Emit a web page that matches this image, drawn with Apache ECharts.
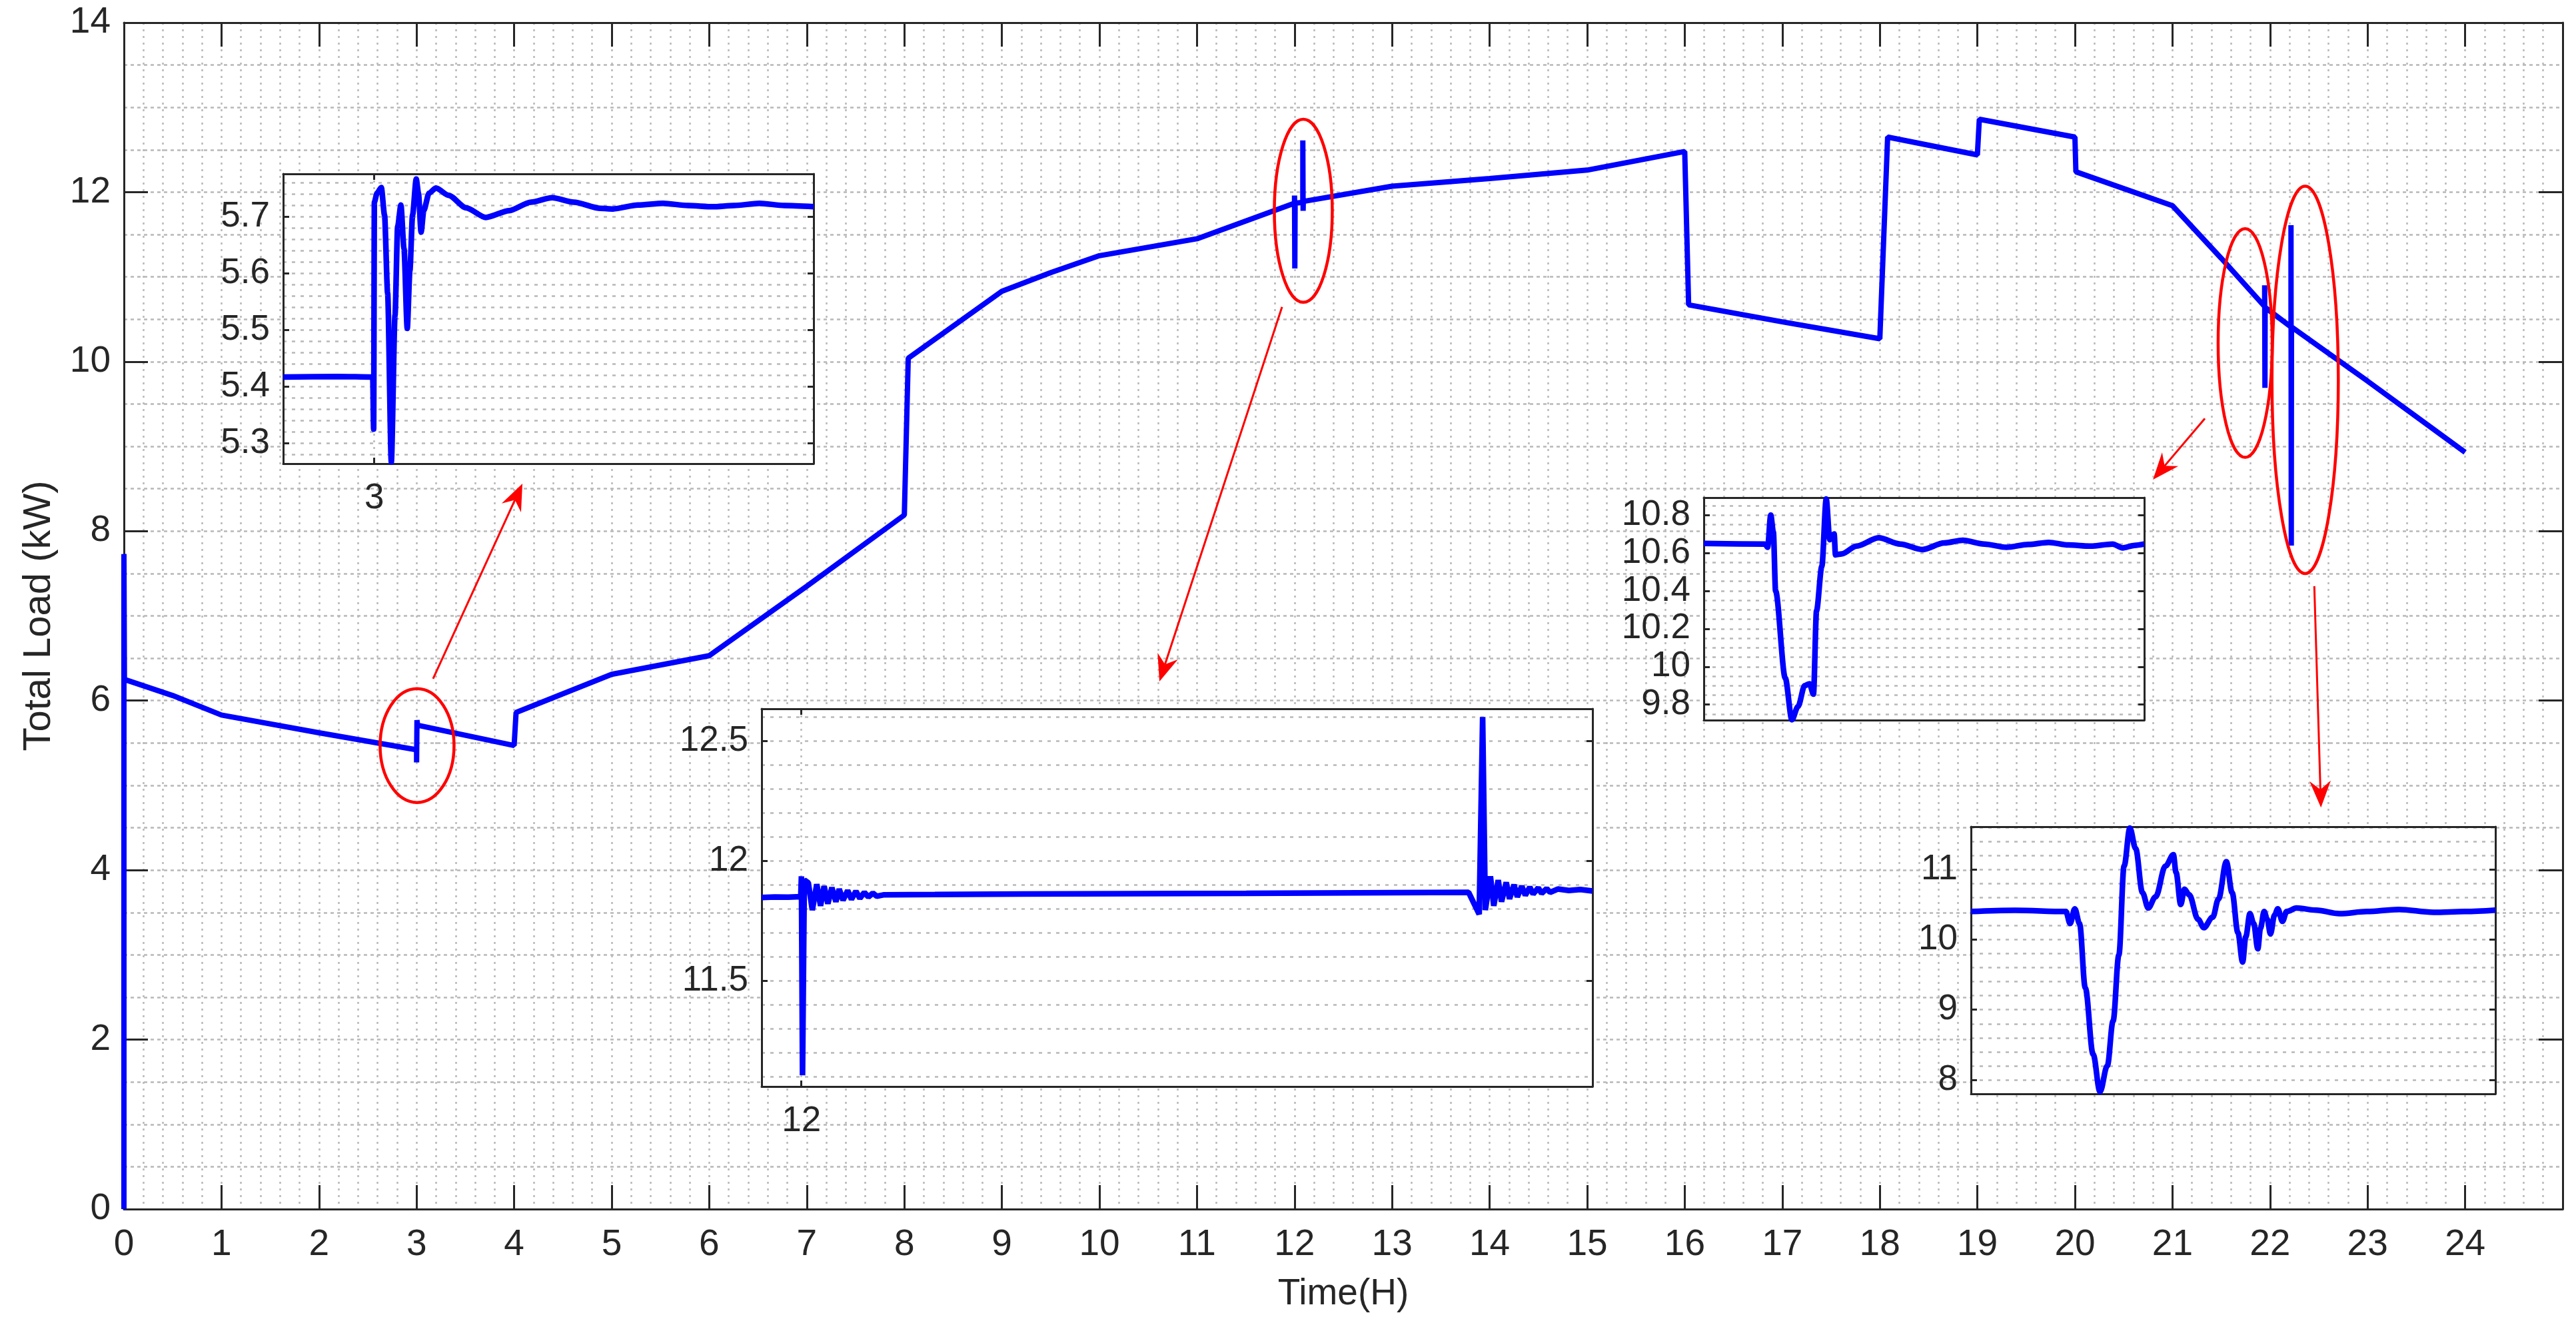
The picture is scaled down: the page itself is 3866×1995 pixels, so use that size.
<!DOCTYPE html>
<html>
<head>
<meta charset="utf-8">
<script src="https://cdn.jsdelivr.net/npm/echarts@6/dist/echarts.min.js"></script>
<style>html,body{margin:0;padding:0;background:#fff}#c{width:3866px;height:1995px}</style>
</head>
<body>
<div id="c"></div>
<script>
// ---------------- data ----------------
// main curve: time (h) and total load (kW)
const mainHours = [0, 0, 0.005, 0.5, 1, 2, 3, 3, 3.004, 3.01, 4, 4.02, 5, 6, 7, 8, 8.04, 9, 9.5, 10, 11, 11.5,
  12, 12, 12.003, 12.006, 12.085, 12.085, 12.088, 12.09, 13, 14, 15, 16, 16.04, 17, 18, 18.08, 19, 19.02, 20, 20.01,
  21, 21.5, 21.945, 21.945, 21.948, 21.95, 22.215, 22.215, 22.218, 22.22, 22.5, 23, 23.5, 24];
const mainLoad = [0, 7.73, 6.25, 6.06, 5.83, 5.62, 5.42, 5.27, 5.77, 5.71, 5.47, 5.86, 6.31, 6.53, 7.35, 8.19, 10.04, 10.83, 11.05, 11.25, 11.45, 11.66,
  11.87, 11.96, 11.10, 11.87, 11.88, 12.61, 11.78, 11.89, 12.07, 12.16, 12.26, 12.48, 10.67, 10.47, 10.27, 12.65, 12.44, 12.86, 12.65, 12.24,
  11.84, 11.22, 10.65, 10.90, 9.69, 10.64, 10.41, 11.61, 7.83, 10.41, 10.18, 9.77, 9.35, 8.93];
const mainXTicks = [0,1,2,3,4,5,6,7,8,9,10,11,12,13,14,15,16,17,18,19,20,21,22,23,24];
const mainYTicks = [0,2,4,6,8,10,12,14];

// inset 1: seconds after 3 h
const inset1Sec = [-6.18, -2.47, -0.10, -0.04, 0.01, 0.19, 0.48, 0.70, 0.91, 1.16, 1.41, 1.59, 1.81, 2.02, 2.24, 2.42, 2.60, 2.85, 3.00, 3.18,
  3.36, 3.72, 4.19, 5.05, 6.24, 7.57, 9.16, 10.63, 12.07, 13.55, 15.35, 16.21, 17.90, 19.60, 21.29, 22.98, 24.42, 26.15, 27.84, 29.82];
const inset1Load = [5.417, 5.418, 5.417, 5.325, 5.726, 5.742, 5.752, 5.703, 5.565, 5.267, 5.526, 5.683, 5.721, 5.644, 5.503, 5.605, 5.703, 5.767, 5.742, 5.673,
  5.711, 5.742, 5.751, 5.738, 5.716, 5.699, 5.711, 5.726, 5.734, 5.726, 5.715, 5.714, 5.721, 5.724, 5.72, 5.718, 5.72, 5.724, 5.72, 5.718];
const inset1XTicks = [3];
const inset1YTicks = [5.3, 5.4, 5.5, 5.6, 5.7];

// inset 2: seconds after 12 h
const inset2Sec = [-17.9, -12, -6, -0.3, 0, 0.5, 1.3, 3.1, 4.9, 6.9, 8.6, 10.2, 11.9, 13.7, 15.5, 17.0, 18.7,
  20.8, 22.5, 24.5, 26.3, 28.3, 30.1, 32.1, 33.9, 37.2, 60, 100, 150, 200, 250, 300, 304.75, 306.3, 307.5,
  309.8, 311.3, 313.3, 314.8, 316.9, 318.4, 320.4, 321.9, 323.9, 325.5, 327.5, 329.0, 331.3, 332.8, 335.1, 336.6, 340.1, 345.1, 350.2, 355.7];
const inset2Load = [11.847, 11.849, 11.848, 11.85, 11.935, 11.105, 11.92, 11.908, 11.794, 11.902, 11.812, 11.894, 11.821, 11.888, 11.829, 11.882, 11.835,
  11.876, 11.839, 11.873, 11.843, 11.868, 11.849, 11.865, 11.852, 11.858, 11.859, 11.861, 11.863, 11.864, 11.866, 11.868, 11.777, 12.60, 11.794,
  11.935, 11.812, 11.919, 11.829, 11.910, 11.841, 11.900, 11.849, 11.894, 11.856, 11.89, 11.861, 11.887, 11.864, 11.884, 11.868, 11.882, 11.876, 11.88, 11.874];
const inset2XTicks = [12];
const inset2YTicks = [11.5, 12, 12.5];

// inset 3: seconds within the zoom window (event near 21.95 h)
const inset3Sec = [0, 8.34, 8.7, 9.12, 9.48, 9.78, 11.1, 12.0, 12.84, 13.74, 14.4, 14.94, 15.36, 16.08, 16.68, 17.16, 17.76, 17.94, 18.78, 20.82,
  23.82, 26.76, 29.76, 32.76, 35.28, 38.22, 41.22, 44.22, 46.98, 49.68, 52.68, 55.68, 57.06, 58.68, 60];
const inset3Load = [10.65, 10.647, 10.63, 10.80, 10.71, 10.40, 9.94, 9.72, 9.79, 9.90, 9.91, 9.855, 10.295, 10.53, 10.885, 10.67, 10.70, 10.59, 10.595, 10.636,
  10.68, 10.647, 10.618, 10.653, 10.667, 10.647, 10.63, 10.645, 10.656, 10.642, 10.636, 10.647, 10.627, 10.64, 10.647];
const inset3YTicks = [9.8, 10, 10.2, 10.4, 10.6, 10.8];

// inset 4: seconds within the zoom window (event near 22.2 h)
const inset4Sec = [0, 5.04, 10.86, 11.34, 11.88, 12.42, 13.08, 13.98, 14.76, 15.6, 16.26, 16.92, 17.52, 18.18, 18.84, 19.62, 20.28, 21.12, 22.26, 23.16,
  23.46, 24.0, 24.42, 24.96, 25.98, 26.64, 27.66, 28.32, 29.22, 29.88, 30.54, 31.08, 31.44, 31.92, 32.34, 32.82, 33.12, 33.54, 33.9, 34.26,
  34.74, 35.1, 35.64, 36.12, 37.26, 39.48, 42.18, 45.3, 48.9, 52.92, 56.52, 60];
const inset4Load = [10.40, 10.418, 10.40, 10.23, 10.44, 10.23, 9.31, 8.36, 7.83, 8.20, 8.84, 9.78, 11.05, 11.59, 11.30, 10.67, 10.45, 10.61, 11.05, 11.21,
  10.96, 10.50, 10.72, 10.64, 10.29, 10.17, 10.32, 10.58, 11.11, 10.67, 10.10, 9.68, 10.04, 10.37, 10.23, 9.87, 10.16, 10.40, 10.29, 10.08,
  10.35, 10.44, 10.26, 10.40, 10.45, 10.42, 10.37, 10.40, 10.43, 10.39, 10.40, 10.42];
const inset4YTicks = [8, 9, 10, 11];

// callouts in main-chart data coordinates
const calloutEllipses = [[2.626, 3.384, 4.798, 6.142], [11.793, 12.387, 10.70, 12.86], [21.468, 22.022, 8.87, 11.57], [22.02, 22.70, 7.50, 12.07]];
const calloutArrows = [[3.169, 6.258, 4.085, 8.561], [11.872, 10.645, 10.615, 6.226], [21.332, 9.328, 20.80, 8.608], [22.454, 7.351, 22.522, 4.738]];

// ---------------- styles ----------------
const FONT = '"Liberation Sans", Arial, Helvetica, sans-serif';
const INK = '#262626';
const GC = '#b8b8b8';
const BLUE = '#0000ff';
const RED = '#ff0000';

function tickFmt(list) {
  return function (v) {
    for (const t of list) { if (Math.abs(t - v) < 1e-6) return String(t); }
    return '';
  };
}
function zip(xs, ys, fx) { return xs.map((x, i) => [fx ? fx(x) : x, ys[i]]); }

const lineAx = { onZero: false, lineStyle: { color: INK, width: 3 } };
const vGrid = { color: GC, width: 2.5, type: [3, 7] };
const hGridMain = { color: GC, width: 2.5, type: [5, 5] };
const hGridInset = { color: GC, width: 2.5, type: [5, 8] };

const grids = [
  { left: 186, top: 34, width: 3660, height: 1781 },
  { left: 425, top: 261, width: 796, height: 435 },
  { left: 1143, top: 1064, width: 1247, height: 567 },
  { left: 2557, top: 747, width: 661, height: 334 },
  { left: 2958, top: 1241, width: 787, height: 401 }
].map((g, i) => Object.assign({ containLabel: false, outerBoundsMode: 'none', borderWidth: 0 },
  g, i > 0 ? { show: true, backgroundColor: '#ffffff', z: 3 } : {}));

const xAxes = [];
const yAxes = [];

// main axes
xAxes.push({
  type: 'value', gridIndex: 0, position: 'bottom', min: 0, max: 25, interval: 1,
  axisLine: lineAx,
  axisTick: { inside: true, length: 36, lineStyle: { color: INK, width: 3 } },
  axisLabel: { margin: 26, fontSize: 55, color: INK, fontFamily: FONT, formatter: tickFmt(mainXTicks) },
  splitLine: { show: true, lineStyle: vGrid },
  minorTick: { show: false, splitNumber: 5 },
  minorSplitLine: { show: true, lineStyle: vGrid },
  name: 'Time(H)', nameLocation: 'middle', nameGap: 100, nameMoveOverlap: false,
  nameTextStyle: { fontSize: 55, color: INK, fontFamily: FONT }
});
xAxes.push({
  type: 'value', gridIndex: 0, position: 'top', min: 0, max: 25, interval: 1,
  axisLine: lineAx,
  axisTick: { inside: true, length: 36, lineStyle: { color: INK, width: 3 } },
  axisLabel: { show: false }, splitLine: { show: false }
});
yAxes.push({
  type: 'value', gridIndex: 0, position: 'left', min: 0, max: 14, interval: 2,
  axisLine: lineAx,
  axisTick: { inside: true, length: 36, lineStyle: { color: INK, width: 3 } },
  axisLabel: { margin: 20, fontSize: 55, color: INK, fontFamily: FONT, formatter: tickFmt(mainYTicks) },
  splitLine: { show: true, lineStyle: hGridMain },
  minorTick: { show: false, splitNumber: 4 },
  minorSplitLine: { show: true, lineStyle: hGridMain },
  name: 'Total Load (kW)', nameLocation: 'middle', nameGap: 98, nameMoveOverlap: false,
  nameTextStyle: { fontSize: 58, color: INK, fontFamily: FONT }
});
yAxes.push({
  type: 'value', gridIndex: 0, position: 'right', min: 0, max: 14, interval: 2,
  axisLine: lineAx,
  axisTick: { inside: true, length: 36, lineStyle: { color: INK, width: 3 } },
  axisLabel: { show: false }, splitLine: { show: false }
});

// inset axes
function addInset(gi, c) {
  const tick = { inside: true, length: 9, lineStyle: { color: INK, width: 3 } };
  const xi = xAxes.length, yi = yAxes.length;
  const xBase = { type: 'value', gridIndex: gi, min: c.xmin, max: c.xmax, z: 4, axisLine: lineAx };
  if (c.xInt) { xBase.minInterval = c.xInt; xBase.maxInterval = c.xInt; }
  const hasX = !!c.xTicks;
  xAxes.push(Object.assign({}, xBase, {
    position: 'bottom',
    axisTick: Object.assign({ show: hasX }, tick),
    axisLabel: { show: hasX, margin: 26, fontSize: 53, color: INK, fontFamily: FONT, formatter: tickFmt(c.xTicks || []) },
    splitLine: { show: hasX, lineStyle: vGrid }
  }));
  xAxes.push(Object.assign({}, xBase, {
    position: 'top',
    axisTick: Object.assign({ show: hasX }, tick),
    axisLabel: { show: false }, splitLine: { show: false }
  }));
  const yBase = { type: 'value', gridIndex: gi, min: c.ymin, max: c.ymax, minInterval: c.yInt, maxInterval: c.yInt, z: 4, axisLine: lineAx };
  yAxes.push(Object.assign({}, yBase, {
    position: 'left', axisTick: tick,
    axisLabel: { margin: 20, fontSize: 53, color: INK, fontFamily: FONT, formatter: tickFmt(c.yTicks) },
    splitLine: { show: true, lineStyle: hGridInset },
    minorTick: { show: false, splitNumber: c.ySplit },
    minorSplitLine: { show: true, lineStyle: hGridInset }
  }));
  yAxes.push(Object.assign({}, yBase, {
    position: 'right', axisTick: tick, axisLabel: { show: false }, splitLine: { show: false }
  }));
  return [xi, yi];
}

const in1 = addInset(1, { xmin: 3 - 6.18 / 3600, xmax: 3 + 29.82 / 3600, xInt: 1, xTicks: inset1XTicks,
  ymin: 5.264, ymax: 5.776, yInt: 0.1, ySplit: 5, yTicks: inset1YTicks });
const in2 = addInset(2, { xmin: 12 - 17.9 / 3600, xmax: 12 + 355.7 / 3600, xInt: 1, xTicks: inset2XTicks,
  ymin: 11.058, ymax: 12.634, yInt: 0.5, ySplit: 5, yTicks: inset2YTicks });
const in3 = addInset(3, { xmin: 0, xmax: 60, ymin: 9.718, ymax: 10.892, yInt: 0.2, ySplit: 4, yTicks: inset3YTicks });
const in4 = addInset(4, { xmin: 0, xmax: 60, ymin: 7.80, ymax: 11.61, yInt: 1, ySplit: 5, yTicks: inset4YTicks });

function insetSeries(ax, data, smooth) {
  return {
    type: 'line', xAxisIndex: ax[0], yAxisIndex: ax[1], data: data, z: 5,
    symbol: 'none', showSymbol: false, smooth: smooth, smoothMonotone: 'x',
    lineStyle: { color: BLUE, width: 8.5 }, animation: false, silent: true
  };
}

const series = [
  {
    type: 'line', xAxisIndex: 0, yAxisIndex: 0, data: zip(mainHours, mainLoad), z: 2, clip: false,
    symbol: 'none', showSymbol: false, lineStyle: { color: BLUE, width: 8 }, animation: false, silent: true
  },
  {
    type: 'custom', xAxisIndex: 0, yAxisIndex: 0, z: 3, silent: true, animation: false,
    data: calloutEllipses, encode: { x: [0, 1], y: [2, 3] },
    renderItem: function (params, api) {
      const a = api.coord([api.value(0), api.value(2)]);
      const b = api.coord([api.value(1), api.value(3)]);
      return {
        type: 'ellipse',
        shape: { cx: (a[0] + b[0]) / 2, cy: (a[1] + b[1]) / 2, rx: Math.abs(b[0] - a[0]) / 2, ry: Math.abs(b[1] - a[1]) / 2 },
        style: { fill: 'none', stroke: RED, lineWidth: 4.5 }
      };
    }
  },
  {
    type: 'custom', xAxisIndex: 0, yAxisIndex: 0, z: 3, silent: true, animation: false,
    data: calloutArrows, encode: { x: [0, 2], y: [1, 3] },
    renderItem: function (params, api) {
      const p = api.coord([api.value(0), api.value(1)]);
      const q = api.coord([api.value(2), api.value(3)]);
      const dx = q[0] - p[0], dy = q[1] - p[1];
      const len = Math.sqrt(dx * dx + dy * dy);
      const ux = dx / len, uy = dy / len, nx = -uy, ny = ux;
      const L = 40, W = 16, N = 27;
      const bx = q[0] - ux * L, by = q[1] - uy * L;
      const kx = q[0] - ux * N, ky = q[1] - uy * N;
      return {
        type: 'group',
        children: [
          { type: 'line', shape: { x1: p[0], y1: p[1], x2: kx, y2: ky }, style: { stroke: RED, lineWidth: 3 } },
          { type: 'polygon', shape: { points: [[q[0], q[1]], [bx + nx * W, by + ny * W], [kx, ky], [bx - nx * W, by - ny * W]] },
            style: { fill: RED } }
        ]
      };
    }
  },
  insetSeries(in1, zip(inset1Sec, inset1Load, s => 3 + s / 3600), 0.25),
  insetSeries(in2, zip(inset2Sec, inset2Load, s => 12 + s / 3600), false),
  insetSeries(in3, zip(inset3Sec, inset3Load), 0.3),
  insetSeries(in4, zip(inset4Sec, inset4Load), 0.35)
];

const chart = echarts.init(document.getElementById('c'), null, { renderer: 'canvas', width: 3866, height: 1995 });
chart.setOption({
  animation: false,
  backgroundColor: '#ffffff',
  textStyle: { fontFamily: FONT },
  grid: grids,
  xAxis: xAxes,
  yAxis: yAxes,
  series: series
});
</script>
</body>
</html>
